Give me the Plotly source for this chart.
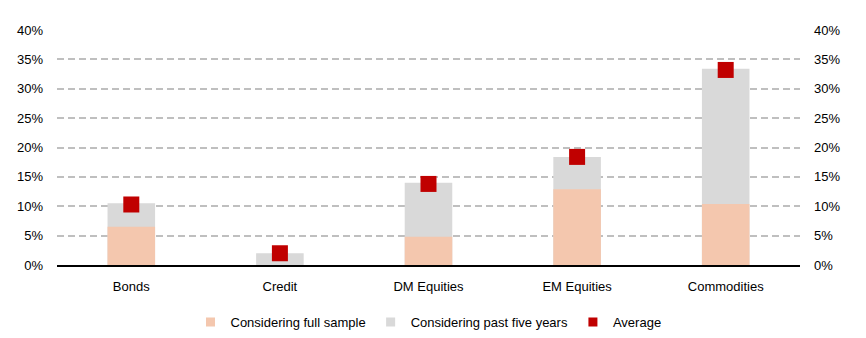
import plotly.graph_objects as go

categories = ["Bonds", "Credit", "DM Equities", "EM Equities", "Commodities"]
full_sample = [6.5, 0.0, 4.8, 12.9, 10.4]
past_five_years = [10.5, 2.0, 14.0, 18.4, 33.4]
average = [10.3, 2.0, 13.8, 18.4, 33.2]
tick_vals = [0, 5, 10, 15, 20, 25, 30, 35, 40]
tick_text = [f"{v}%" for v in tick_vals]

FONT = "Liberation Sans, Arial, sans-serif"
C_FULL = "#F4C7AE"
C_FIVE = "#D9D9D9"
C_AVG = "#C00000"

fig = go.Figure()
fig.add_trace(go.Bar(x=categories, y=past_five_years, name="Considering past five years",
                     marker=dict(color=C_FIVE, line=dict(width=0)), width=0.32,
                     showlegend=False))
fig.add_trace(go.Bar(x=categories, y=full_sample, name="Considering full sample",
                     marker=dict(color=C_FULL, line=dict(width=0)), width=0.32,
                     showlegend=False))
fig.add_trace(go.Scatter(x=categories, y=average, name="Average", mode="markers",
                         marker=dict(symbol="square", size=16, color=C_AVG),
                         showlegend=False))
fig.add_trace(go.Scatter(x=categories, y=average, yaxis="y2", mode="markers",
                         marker=dict(opacity=0), showlegend=False, hoverinfo="skip"))
# legend entries with small square symbols
for name, col in [("Considering full sample", C_FULL),
                  ("Considering past five years", C_FIVE),
                  ("Average", C_AVG)]:
    fig.add_trace(go.Scatter(x=[None], y=[None], name=name, mode="markers",
                             marker=dict(symbol="square", size=9, color=col)))

fig.update_layout(
    width=866, height=338,
    margin=dict(l=57, r=66, t=30, b=73, autoexpand=False),
    barmode="overlay",
    plot_bgcolor="white", paper_bgcolor="white",
    font=dict(family=FONT, size=13, color="#000000"),
    xaxis=dict(showgrid=False, showline=True, linecolor="#000000", linewidth=2,
               ticks="", tickfont=dict(size=13), categoryorder="array",
               categoryarray=categories, automargin=False, ticklabelstandoff=8),
    yaxis=dict(range=[0, 40], tickvals=tick_vals, ticktext=tick_text,
               showgrid=True, gridcolor="#BFBFBF", gridwidth=1.5, griddash="7px,4px",
               zeroline=False, showline=False, ticks="", ticklabelstandoff=13,
               automargin=False),
    yaxis2=dict(range=[0, 40], tickvals=tick_vals, ticktext=tick_text, overlaying="y",
                side="right", showgrid=False, zeroline=False, showline=False, ticks="",
                ticklabelstandoff=13, automargin=False),
    legend=dict(orientation="h", x=0.5, xanchor="center", yref="container",
                y=0.047, yanchor="middle", traceorder="normal",
                font=dict(size=13), itemwidth=30),
    showlegend=True,
)

fig.write_html("out.html")
